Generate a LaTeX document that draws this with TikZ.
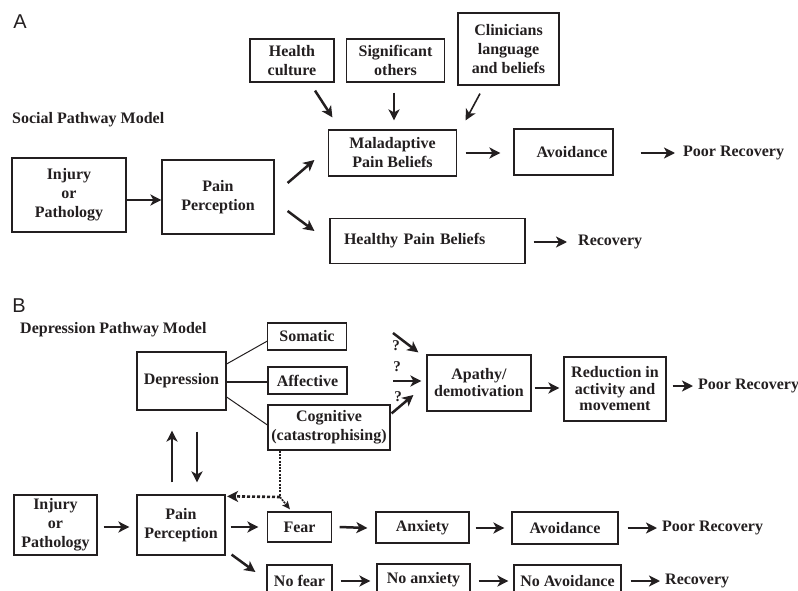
\documentclass[tikz,border=0pt]{standalone}
\usepackage{fontspec}
\setmainfont{Liberation Serif}
\newfontfamily\labfont{Liberation Sans}
\usetikzlibrary{arrows.meta,calc}
\definecolor{ink}{RGB}{35,31,32}
\begin{document}
\begin{tikzpicture}[x=1pt,y=-1pt,
 box/.style={draw=ink, line width=1.2pt, inner sep=0pt, align=center, text=ink, font=\bfseries\fontsize{16}{19}\selectfont},
 sz/.style 2 args={minimum width=#1pt, minimum height=#2pt},
 lbl/.style={inner sep=0pt, text=ink, font=\bfseries\fontsize{16}{19}\selectfont, anchor=west},
 qm/.style={inner sep=0pt, text=ink, font=\bfseries\fontsize{15}{15}\selectfont},
 panel/.style={inner sep=0pt, text=ink, font=\labfont\fontsize{20}{20}\selectfont},
 arr/.style={draw=ink, line width=2.5pt, -{Stealth[length=11pt,width=11pt,inset=3pt]}},
 thinl/.style={draw=ink, line width=1pt},
 thickl/.style={draw=ink, line width=2.2pt},
 dotl/.style={draw=ink, line width=2.6pt, dash pattern=on 2pt off 1.3pt},
 ]
\useasboundingbox (0,0) rectangle (798,591);
\clip (0,0) rectangle (798,591);
% ---------- Panel A ----------
\node[panel] (labA) at (20,22) {A};
\node[lbl] (t1) at (12,120) {Social Pathway Model};
\node[box, sz={84}{43}] (hc) at (292,60.5) {Health\\culture};
\node[box, sz={98}{43}] (so) at (395.5,60.5) {Significant\\others};
\node[box, sz={101}{72}] (cl) at (508.5,49) {Clinicians\\language\\and beliefs};
\node[box, sz={114}{74}] (inj) at (69,195) {Injury\\or\\Pathology};
\node[box, sz={112}{74}] (pA) at (218,197) {Pain\\Perception};
\node[box, sz={128}{46}] (mal) at (392.5,153) {Maladaptive\\Pain Beliefs};
\node[box, minimum height=45pt, text width=167pt, inner xsep=14pt, align=left] (hea) at (427.5,241) {Healthy Pain Beliefs};
\node[box, sz={99}{46}] (avo) at (563.5,152) {\hspace*{17pt}Avoidance};
\node[lbl] (poor1) at (683,153) {Poor Recovery};
\node[lbl] (rec1) at (578,242) {Recovery};

\draw[arr] ([yshift=-5pt]inj.east) -- ([yshift=-3pt]pA.west);
\draw[arr] ([shift={(13pt,14pt)}]pA.east) -- ([shift={(-13.5pt,-7pt)}]mal.west);
\draw[arr] ([shift={(13pt,-14pt)}]pA.east) -- ([shift={(-15pt,10pt)}]hea.west);
\draw[arr] ([shift={(23pt,-8pt)}]hc.south) -- ([shift={(4.5pt,12pt)}]mal.north west);
\draw[arr] ([shift={(-1.5pt,-10pt)}]so.south) -- ([shift={(1.5pt,9pt)}]mal.north);
\draw[arr, line width=1.6pt] ([shift={(-28.5pt,-8pt)}]cl.south) -- ([shift={(8.5pt,9pt)}]mal.north east);
\draw[arr] ([xshift=8.5pt]mal.east) -- ([shift={(-13pt,-1pt)}]avo.west);
\draw[arr] ([shift={(27pt,-1pt)}]avo.east) -- ([xshift=-8pt]poor1.west);
\draw[arr] ([shift={(8pt,-1pt)}]hea.east) -- ([xshift=-11pt]rec1.west);

% ---------- Panel B ----------
\node[panel] (labB) at (19,306) {B};
\node[lbl] (t2) at (20,330) {Depression Pathway Model};
\node[box, sz={79}{27}] (som) at (307,336.5) {Somatic};
\node[box, sz={79}{27}] (aff) at (307.5,380.5) {Affective};
\node[box, sz={122}{45}] (cog) at (329,427.5) {Cognitive\\(catastrophising)};
\node[box, sz={89}{58}] (dep) at (181.5,381) {Depression};
\node[box, sz={88}{60}] (pB) at (181,525) {Pain\\Perception};
\node[box, sz={83}{60}] (injB) at (55.5,525) {Injury\\or\\Pathology};
\node[box, sz={64}{30}] (fear) at (299.5,527) {Fear};
\node[box, sz={93}{31}] (anx) at (422.5,527.5) {Anxiety};
\node[box, sz={106}{32}] (avoB) at (565,528) {Avoidance};
\node[lbl] (poor2) at (662,528) {Poor Recovery};
\node[box, sz={65}{32}] (nofear) at (299.5,581) {No fear};
\node[box, sz={93}{32}] (noanx) at (423.5,580) {No anxiety};
\node[box, sz={107}{32}] (noavo) at (567.5,581) {No Avoidance};
\node[lbl] (rec2) at (665,581) {Recovery};
\node[box, sz={104}{56}, font=\bfseries\fontsize{16}{17}\selectfont] (apa) at (479,383) {Apathy/\\demotivation};
\node[box, sz={102}{64}, font=\bfseries\fontsize{16}{16.5}\selectfont] (red) at (615,389) {Reduction in\\activity and\\movement};
\node[lbl] (poor3) at (698,386) {Poor Recovery};

\draw[thinl] ([yshift=17pt]dep.east) -- ([shift={(0.5pt,-4.5pt)}]som.west);
\draw[thickl] ([yshift=-1pt]dep.east) -- ([yshift=-1.5pt]aff.west);
\draw[thinl] ([yshift=-16pt]dep.east) -- ([yshift=2.5pt]cog.west);

\draw[arr] ([shift={(-9pt,12pt)}]pB.north) -- ([shift={(-9.5pt,-20pt)}]dep.south);
\draw[arr] ([shift={(15.5pt,-21pt)}]dep.south) -- ([shift={(16pt,12pt)}]pB.north);
\draw[arr, line width=2pt] ([shift={(6pt,-2pt)}]injB.east) -- ([shift={(-7pt,-2pt)}]pB.west);
\draw[arr] ([shift={(5pt,-2pt)}]pB.east) -- ([xshift=-8.5pt]fear.west);
\draw[arr] ([xshift=7.5pt]fear.east) -- ([shift={(-8pt,-0.5pt)}]anx.west);
\draw[arr] ([shift={(6pt,-0.5pt)}]anx.east) -- ([xshift=-7pt]avoB.west);
\draw[arr] ([xshift=9pt]avoB.east) -- ([xshift=-5pt]poor2.west);
\draw[arr] ([shift={(6pt,1pt)}]pB.south east) -- ([shift={(-11pt,9pt)}]nofear.west);
\draw[arr] ([xshift=8pt]nofear.east) -- ([xshift=-6pt]noanx.west |- nofear.east);
\draw[arr] ([xshift=8pt]noanx.east |- nofear.east) -- ([xshift=-5pt]noavo.west);
\draw[arr] ([xshift=9pt]noavo.east) -- ([xshift=-5pt]rec2.west);
\draw[arr] ([shift={(3pt,-5pt)}]apa.east) -- ([shift={(-4pt,1pt)}]red.west);
\draw[arr] ([shift={(6pt,3pt)}]red.east) -- ([xshift=-5pt]poor3.west);

% question-mark arrows
\coordinate (q1s) at (393,333);
\coordinate (q2s) at (393,381);
\draw[arr] (q1s) -- ([shift={(-8pt,2pt)}]apa.north west);
\draw[arr] (q2s) -- ([shift={(-5pt,2pt)}]apa.west);
\draw[arr] ([shift={(1pt,-9pt)}]cog.north east) -- ([shift={(-13pt,-12pt)}]apa.west);
\node[qm] (qa) at (396,346) {?};
\node[qm] (qb) at (397,367) {?};
\node[qm] (qc) at (398,397) {?};

% dotted link from cognitive
\coordinate (dc) at (280,497);
\draw[dotl] (dc |- cog.south) -- (dc);
\draw[dotl, dash pattern=on 3pt off 2pt] (dc) -- ([shift={(10pt,-2pt)}]pB.north east);
\draw[arr] ([shift={(10pt,-2pt)}]pB.north east) -- ([shift={(1.5pt,-2pt)}]pB.north east);
\draw[draw=ink, line width=1.6pt, dash pattern=on 2pt off 1pt, -{Stealth[length=8pt,width=7pt,inset=1.5pt]}] (dc) -- ([shift={(-9.5pt,2pt)}]fear.north);
\end{tikzpicture}
\end{document}
